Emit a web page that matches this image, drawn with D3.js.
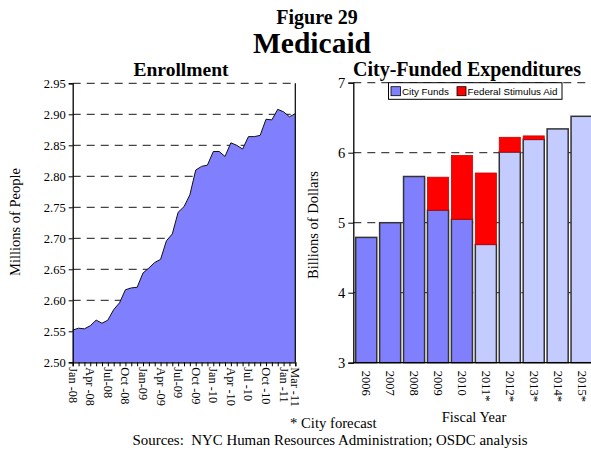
<!DOCTYPE html>
<html>
<head>
<meta charset="utf-8">
<script src="https://cdn.jsdelivr.net/npm/d3@7"></script>
<style>
  body { margin: 0; background: #fff; }
  svg { display: block; font-family: "Liberation Serif", "Times New Roman", serif; }
</style>
</head>
<body>
<svg id="chart" width="591" height="450"></svg>
<script>
// enrollment, millions of people, monthly Jan-08 .. Mar-11
var enrollment = [2.552, 2.555, 2.554, 2.559, 2.568, 2.563, 2.568, 2.585, 2.596, 2.617,
  2.620, 2.621, 2.644, 2.652, 2.661, 2.666, 2.696, 2.707, 2.742, 2.751,
  2.770, 2.810, 2.816, 2.818, 2.840, 2.840, 2.832, 2.854, 2.850, 2.844,
  2.864, 2.864, 2.866, 2.892, 2.891, 2.908, 2.904, 2.896, 2.901]
var monthLabels = ["Jan -08", "Apr -08", "Jul-08", "Oct -08", "Jan-09", "Apr -09", "Jul-09",
  "Oct -09", "Jan -10", "Apr -10", "Jul -10", "Oct -10", "Jan -11", "Mar -11"]
var labelMonths = [0, 3, 6, 9, 12, 15, 18, 21, 24, 27, 30, 33, 36, 38]
var enrollTicks = [2.50, 2.55, 2.60, 2.65, 2.70, 2.75, 2.80, 2.85, 2.90, 2.95]

// expenditures, billions of dollars
var years = ["2006", "2007", "2008", "2009", "2010", "2011*", "2012*", "2013*", "2014*", "2015*"]
var cityFunds = [4.79, 5.00, 5.66, 5.18, 5.05, 4.69, 6.01, 6.19, 6.34, 6.52]
var stimulus = [0, 0, 0, 0.47, 0.91, 1.02, 0.21, 0.05, 0, 0]
var forecast = [false, false, false, false, false, true, true, true, true, true]
var dollarTicks = [3, 4, 5, 6, 7]

var svg = d3.select("#chart")

function txt(x, y, s, size, opts) {
  opts = opts || {}
  var t = svg.append("text")
    .attr("x", x).attr("y", y)
    .attr("font-size", size)
    .attr("text-anchor", opts.anchor || "middle")
    .attr("font-weight", opts.bold ? "bold" : "normal")
    .text(s)
  if (opts.rotate) t.attr("transform", "rotate(" + opts.rotate + "," + x + "," + y + ")")
  return t
}

// titles
txt(317, 24, "Figure 29", 20, {bold: true})
txt(312, 53, "Medicaid", 29.5, {bold: true})
txt(181, 76, "Enrollment", 19.5, {bold: true})
txt(467, 76, "City-Funded Expenditures", 20, {bold: true})

/* left: enrollment area */
var x1 = d3.scaleLinear().domain([0, enrollment.length - 1]).range([72.7, 295.3])
var y1 = d3.scaleLinear().domain([2.5, 2.95]).range([362.3, 83.3])

svg.append("g").selectAll("line")
  .data(enrollTicks.slice(1))
  .enter().append("line")
    .attr("x1", x1(0)).attr("x2", x1(38))
    .attr("y1", d => y1(d)).attr("y2", d => y1(d))
    .attr("stroke", "#444").attr("stroke-width", 1.3)
    .attr("stroke-dasharray", "8,6")

var area = d3.area()
  .x((d, i) => x1(i))
  .y0(y1(2.5))
  .y1(d => y1(d))
svg.append("path")
  .datum(enrollment)
  .attr("d", area)
  .attr("fill", "#8080FF")
svg.append("path")
  .datum(enrollment)
  .attr("d", d3.line().x((d, i) => x1(i)).y(d => y1(d)))
  .attr("fill", "none").attr("stroke", "#111").attr("stroke-width", 1)
svg.append("line")
  .attr("x1", x1(38)).attr("x2", x1(38)).attr("y1", y1(2.95)).attr("y2", y1(2.5))
  .attr("stroke", "#000").attr("stroke-width", 1.2)

var yAxis1 = svg.append("g")
  .attr("transform", "translate(" + x1(0) + ",0)")
  .call(d3.axisLeft(y1).tickValues(enrollTicks).tickFormat(d3.format(".2f")).tickSize(4).tickPadding(3))
yAxis1.selectAll("text").attr("font-size", 12.5).attr("font-family", "Liberation Serif").attr("fill", "#000")

var xAxis1 = svg.append("g")
  .attr("transform", "translate(0," + y1(2.5) + ")")
  .call(d3.axisBottom(x1).tickValues(d3.range(39)).tickFormat("").tickSize(4))
svg.selectAll(".domain").attr("stroke", "#000").attr("stroke-width", 1.3)

svg.append("g").selectAll("text")
  .data(labelMonths)
  .enter().append("text")
    .attr("font-size", 12.3)
    .attr("dy", "0.32em")
    .attr("transform", d => "translate(" + x1(d) + "," + (y1(2.5) + 5) + ") rotate(90)")
    .text((d, i) => monthLabels[i])

txt(20, 222, "Millions of People", 14.5, {rotate: -90})

/* right: expenditures bars */
var x2 = d3.scaleBand().domain(years).range([353.3, 594.5]).paddingInner(0.12).paddingOuter(0.1)
var y2 = d3.scaleLinear().domain([3, 7]).range([362.7, 82.7])

svg.append("g").selectAll("line")
  .data(dollarTicks.slice(1))
  .enter().append("line")
    .attr("x1", 353.3).attr("x2", 600)
    .attr("y1", d => y2(d)).attr("y2", d => y2(d))
    .attr("stroke", "#444").attr("stroke-width", 1.3)
    .attr("stroke-dasharray", "8,6")

svg.append("g").selectAll("rect")
  .data(years)
  .enter().append("rect")
    .attr("x", d => x2(d))
    .attr("width", x2.bandwidth())
    .attr("y", (d, i) => y2(cityFunds[i]))
    .attr("height", (d, i) => y2(3) - y2(cityFunds[i]))
    .attr("fill", (d, i) => forecast[i] ? "#C4CCFF" : "#8080FF")
    .attr("stroke", "#333").attr("stroke-width", 1.5)

svg.append("g").selectAll("rect")
  .data(years.filter((d, i) => stimulus[i] > 0))
  .enter().append("rect")
    .attr("x", d => x2(d))
    .attr("width", x2.bandwidth())
    .attr("y", d => { var i = years.indexOf(d); return y2(cityFunds[i] + stimulus[i]) })
    .attr("height", d => { var i = years.indexOf(d); return y2(cityFunds[i]) - y2(cityFunds[i] + stimulus[i]) })
    .attr("fill", "#FF0000")
    .attr("stroke", "#c00").attr("stroke-width", 0.8)

var yAxis2 = svg.append("g")
  .attr("transform", "translate(353.3,0)")
  .call(d3.axisLeft(y2).tickValues(dollarTicks).tickFormat(d3.format("d")).tickSize(5).tickPadding(3))
yAxis2.selectAll("text").attr("font-size", 14.5).attr("font-family", "Liberation Serif").attr("fill", "#000")
svg.append("line")
  .attr("x1", 353.3).attr("x2", 600).attr("y1", y2(3)).attr("y2", y2(3))
  .attr("stroke", "#000").attr("stroke-width", 1.3)
svg.selectAll(".domain").attr("stroke", "#000").attr("stroke-width", 1.3)

svg.append("g").selectAll("text")
  .data(years)
  .enter().append("text")
    .attr("font-size", 12.5)
    .attr("dy", "0.32em")
    .attr("transform", d => "translate(" + (x2(d) + x2.bandwidth() / 2) + "," + (y2(3) + 8) + ") rotate(90)")
    .text(d => d)

txt(318, 225, "Billions of Dollars", 14.5, {rotate: -90})
txt(474, 422, "Fiscal Year", 14.5)

// legend
var lg = svg.append("g").attr("font-family", "Liberation Sans, Arial, sans-serif").attr("font-size", 9.8)
lg.append("rect").attr("x", 388.5).attr("y", 82.7).attr("width", 173.5).attr("height", 16.6)
  .attr("fill", "#fff").attr("stroke", "#000").attr("stroke-width", 1)
lg.append("rect").attr("x", 391).attr("y", 86.7).attr("width", 9.5).attr("height", 9)
  .attr("fill", "#8080FF").attr("stroke", "#000").attr("stroke-width", 0.8)
lg.append("text").attr("x", 402).attr("y", 94.8).text("City Funds")
lg.append("rect").attr("x", 457).attr("y", 86.7).attr("width", 9).attr("height", 9)
  .attr("fill", "#FF0000").attr("stroke", "#000").attr("stroke-width", 0.8)
lg.append("text").attr("x", 467.5).attr("y", 94.8).text("Federal Stimulus Aid")

// notes
txt(290, 428, "* City forecast", 14.7, {anchor: "start"})
txt(330, 445, "Sources:  NYC Human Resources Administration; OSDC analysis", 14.9).style("white-space", "pre")
</script>
</body>
</html>
